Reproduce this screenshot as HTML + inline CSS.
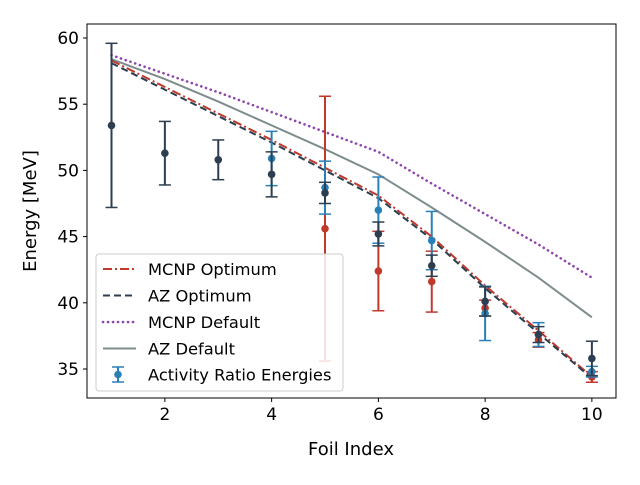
<!DOCTYPE html>
<html><head><meta charset="utf-8"><style>
body{margin:0;background:#fff;}
svg text{font-family:"DejaVu Sans","Liberation Sans",sans-serif;fill:#000;}
</style></head><body>
<svg id="chart" width="640" height="480" xmlns="http://www.w3.org/2000/svg">
<rect x="0" y="0" width="640" height="480" fill="#fff"/>
<g id="plot"></g>
</svg>
<script>
const foils=[1,2,3,4,5,6,7,8,9,10];
const mcnpOpt=[58.3,56.3,54.3,52.3,50.2,48.1,45.0,41.3,37.9,34.4];
const azOpt=[58.1,56.1,54.1,52.1,50.0,47.9,44.8,41.1,37.7,34.3];
const mcnpDef=[58.7,57.3,55.9,54.4,52.9,51.4,49.0,46.7,44.4,41.9];
const azDef=[58.4,56.9,55.2,53.4,51.6,49.7,47.2,44.6,41.9,38.9];
const darkX=[1,2,3,4,5,6,7,8,9,10];
const darkY=[53.4,51.3,50.8,49.7,48.3,45.2,42.8,40.1,37.6,35.8];
const darkE=[6.2,2.4,1.5,1.7,0.8,0.9,0.8,1.1,0.6,1.3];
const blueX=[4,5,6,7,8,9,10];
const blueY=[50.9,48.7,47.0,44.7,39.2,37.6,34.8];
const blueE=[2.05,2.0,2.5,2.2,2.05,0.9,0.4];
const redX=[5,6,7,8,9,10];
const redY=[45.6,42.4,41.6,39.6,37.2,34.4];
const redE=[10,3.0,2.3,0.6,0.55,0.4];
const xTicks=[2,4,6,8,10];
const yTicks=[35,40,45,50,55,60];

const L=87,R=616,T=24,B=398;
const xs=v=>111.5+(v-1)*(592-165)/8;
const ys=v=>369-(v-35)*13.24;
const NS="http://www.w3.org/2000/svg";
const g=document.getElementById('plot');
function mk(tag,attrs,parent){const e=document.createElementNS(NS,tag);for(const k in attrs)e.setAttribute(k,attrs[k]);(parent||g).appendChild(e);return e;}

function line(vals,color,dash,w,name,cap){
  const p=mk('polyline',{points:foils.map((f,i)=>xs(f)+','+ys(vals[i])).join(' '),fill:'none',stroke:color,'stroke-width':w,'stroke-dasharray':dash,'stroke-linecap':cap||'butt'});
  
  
}
line(azDef,'#7f8c8d','',2,'az-default-line');
line(mcnpDef,'#8e44ad','0.1 4.9',2.6,'mcnp-default-line','round');
line(mcnpOpt,'#c0392b','9 3 2 3',2,'mcnp-optimum-line');
line(azOpt,'#2c3e50','7 4',2,'az-optimum-line');

function errs(X,Y,E,color,name){
  X.forEach((x,i)=>{
    const gg=mk('g',{});
    
    
    const cx=xs(x),t=ys(Y[i]+E[i]),b=ys(Y[i]-E[i]);
    mk('line',{x1:cx,x2:cx,y1:t,y2:b,stroke:color,'stroke-width':2},gg);
    mk('line',{x1:cx-6,x2:cx+6,y1:t,y2:t,stroke:color,'stroke-width':1.5},gg);
    mk('line',{x1:cx-6,x2:cx+6,y1:b,y2:b,stroke:color,'stroke-width':1.5},gg);
    mk('circle',{cx:cx,cy:ys(Y[i]),r:3.8,fill:color},gg);
  });
}
errs(redX,redY,redE,'#c0392b','red-point');
errs(blueX,blueY,blueE,'#2980b9','blue-point');
errs(darkX,darkY,darkE,'#2c3e50','dark-point');

const frame=mk('rect',{x:L,y:T,width:R-L,height:B-T,fill:'none',stroke:'#000','stroke-width':1});


xTicks.forEach(v=>{
  mk('line',{x1:xs(v),x2:xs(v),y1:B,y2:B+4,stroke:'#000'});
  const t=mk('text',{x:xs(v),y:B+22,'text-anchor':'middle','font-size':'17'});
  t.textContent=v;
  
  
});
yTicks.forEach(v=>{
  mk('line',{x1:L-4,x2:L,y1:ys(v),y2:ys(v),stroke:'#000'});
  const t=mk('text',{x:L-8,y:ys(v)+6,'text-anchor':'end','font-size':'17'});
  t.textContent=v;
  
  
});
const xt=mk('text',{x:351,y:455,'text-anchor':'middle','font-size':'18'});xt.textContent='Foil Index';


const yt=mk('text',{x:0,y:0,'text-anchor':'middle','font-size':'18',transform:'translate(36,211) rotate(-90)'});yt.textContent='Energy [MeV]';



// legend
const lg=mk('g',{});


mk('rect',{x:96,y:254,width:247,height:137,rx:3,fill:'#fff','fill-opacity':0.85,stroke:'#ccc'},lg);
const entries=[['MCNP Optimum','#c0392b','9 3 2 3','butt'],['AZ Optimum','#2c3e50','7 4','butt'],['MCNP Default','#8e44ad','0.1 4.9','round'],['AZ Default','#7f8c8d','','butt']];
entries.forEach((e,i)=>{
  const y=269+i*26.5;
  const eg=mk('g',{},lg);
  
  
  mk('line',{x1:103,x2:136,y1:y,y2:y,stroke:e[1],'stroke-width':e[3]==='round'?2.6:2,'stroke-dasharray':e[2],'stroke-linecap':e[3]},eg);
  const t=mk('text',{x:148,y:y+6,'font-size':'16.3'},eg);t.textContent=e[0];
});
const eg=mk('g',{},lg);


mk('line',{x1:118,x2:118,y1:367,y2:382,stroke:'#2980b9','stroke-width':2},eg);
mk('line',{x1:112,x2:124,y1:367,y2:367,stroke:'#2980b9','stroke-width':1.5},eg);
mk('line',{x1:112,x2:124,y1:382,y2:382,stroke:'#2980b9','stroke-width':1.5},eg);
mk('circle',{cx:118,cy:374.5,r:3.8,fill:'#2980b9'},eg);
const t5=mk('text',{x:148,y:380.5,'font-size':'16.3'},eg);t5.textContent='Activity Ratio Energies';
</script>
</body></html>
